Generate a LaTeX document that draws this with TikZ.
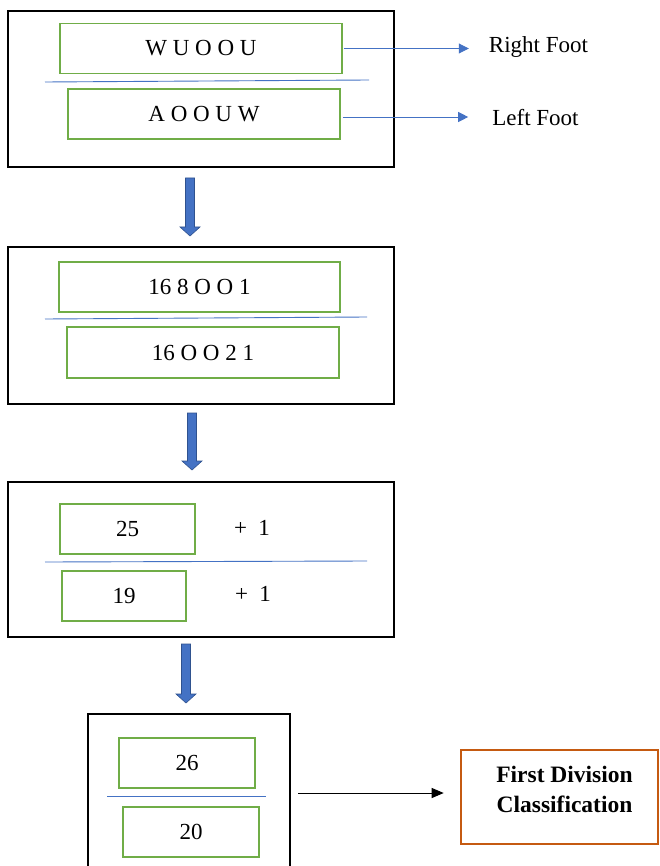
\documentclass[tikz,border=0pt]{standalone}
\usepackage{fontspec}
\setmainfont{Liberation Serif}
\usetikzlibrary{arrows.meta,calc}
\definecolor{blueln}{HTML}{4472C4}
\definecolor{bluedk}{HTML}{2F528F}
\definecolor{greenbx}{HTML}{70AD47}
\definecolor{orangebx}{HTML}{C55A11}
\begin{document}
\begin{tikzpicture}[x=1pt,y=-1pt,
  outerbox/.style={draw=black,line width=2.6pt,minimum width=386pt,minimum height=156pt,inner sep=0pt},
  greenbox/.style={draw=greenbx,line width=1.6pt,inner sep=0pt,minimum height=50pt,font=\fontsize{23}{27}\selectfont},
  lbl/.style={inner sep=0pt,font=\fontsize{23}{27}\selectfont},
  sepline/.style={draw=blueln,line width=0.9pt},
  thinarrow/.style={draw=blueln,line width=0.9pt,-{Triangle[length=10pt,width=10pt]}},
  blockarrow/.style={fill=blueln,draw=bluedk,line width=0.6pt}
]
\useasboundingbox (0,0) rectangle (660,866);
\clip (0,0) rectangle (660,866);
\fill[white] (0,0) rectangle (660,866);

% Box 1
\node[outerbox] (b1) at (201,89) {};
\node[greenbox,minimum width=282pt] (g1a) at (201,48.5) {W U O O U};
\node[greenbox,minimum width=272pt] (g1b) at (204,114) {A O O U W};
\coordinate (l1a) at (45,82);
\coordinate (l1b) at (369,80);
\draw[sepline] (l1a) -- (l1b);
\node[lbl] (rf) at (538.5,47) {Right Foot};
\node[lbl] (lf) at (535.5,118) {Left Foot};
\draw[thinarrow,shorten >=20pt] (g1a.east) ++(1,0) coordinate (s1) (s1) -- (s1 -| rf.west);
\coordinate (s2) at ($(g1b.east)+(2,3)$);
\draw[thinarrow,shorten >=24pt] (s2) -- (s2 -| lf.west);

\newcommand\blockarr[3]{%
  \path[blockarrow] (#1-4.5,#2) -- (#1+4.5,#2) -- (#1+4.5,#3-9) -- (#1+10,#3-9) -- (#1,#3) -- (#1-10,#3-9) -- (#1-4.5,#3-9) -- cycle;}
\blockarr{190}{178}{236}

% Box 2
\node[outerbox,minimum height=157pt] (b2) at (201,325.5) {};
\node[greenbox,minimum width=281pt] (g2a) at (199.5,287) {16 8 O O 1};
\node[greenbox,minimum width=272pt,minimum height=51pt] (g2b) at (203,352.5) {16 O O 2 1};
\coordinate (l2a) at (45,319);
\coordinate (l2b) at (367,317);
\draw[sepline] (l2a) -- (l2b);

\blockarr{192}{413}{470}

% Box 3
\node[outerbox,minimum height=155pt] (b3) at (201,559.5) {};
\node[greenbox,minimum width=135pt] (g3a) at (127.5,529) {25};
\node[greenbox,minimum width=124pt] (g3b) at (124,596) {19};
\node[lbl] (p1) at (252,528) {+\ \ 1};
\node[lbl] (p2) at (253,594) {+\ \ 1};
\coordinate (l3a) at (45,562);
\coordinate (l3b) at (367,561);
\draw[sepline] (l3a) -- (l3b);

\blockarr{186}{644}{703}

% Box 4
\node[outerbox,minimum width=202pt,minimum height=166pt] (b4) at (189,797) {};
\node[greenbox,minimum width=136pt] (g4a) at (187,763) {26};
\node[greenbox,minimum width=136pt] (g4b) at (191,832) {20};
\coordinate (l4a) at (107,796);
\coordinate (l4b) at (266,796);
\draw[sepline] (l4a) -- (l4b);

% Orange box
\node[draw=orangebx,line width=2.6pt,minimum width=197pt,minimum height=94pt,inner sep=0pt] (ob) at (559.5,797) {};
\node[inner sep=0pt,align=center,font=\fontsize{23.5}{30}\selectfont\bfseries] (obt) at (564.5,789) {First Division\\Classification};
\coordinate (k1) at (298,793);
\draw[line width=0.9pt,-{Triangle[length=12pt,width=10pt]}] (k1) -- (k1 -| ob.west) [shorten >=16pt];
\end{tikzpicture}
\end{document}
